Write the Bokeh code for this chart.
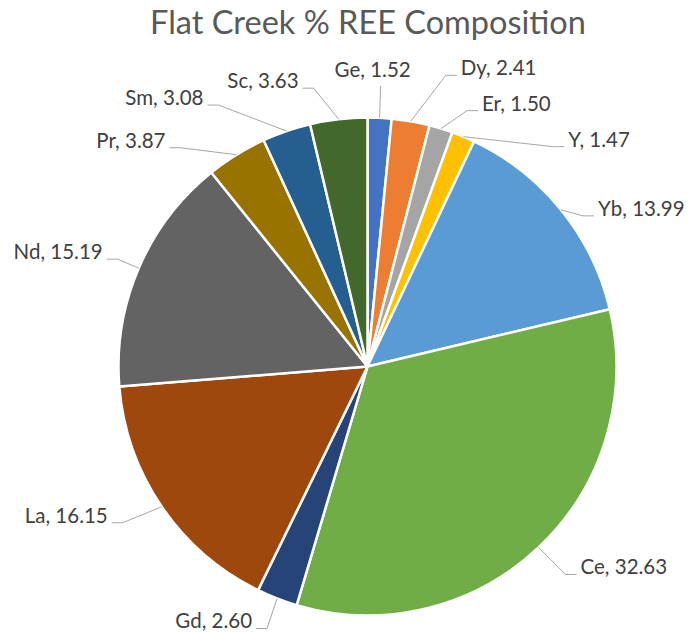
import math
from bokeh.plotting import figure
from bokeh.models import Range1d, ColumnDataSource
from bokeh.core.properties import value
from bokeh.embed import file_html
from bokeh.resources import INLINE

# ---- data ----
elements = ["Ge", "Dy", "Er", "Y", "Yb", "Ce", "Gd", "La", "Nd", "Pr", "Sm", "Sc"]
percent = [1.52, 2.41, 1.50, 1.47, 13.99, 32.63, 2.60, 16.15, 15.19, 3.87, 3.08, 3.63]
colors = ["#4472C4", "#ED7D31", "#A5A5A5", "#FFC000", "#5B9BD5", "#70AD47",
          "#264478", "#9E480E", "#636363", "#997300", "#255E91", "#43682B"]
title_text = "Flat Creek % REE Composition"

# ---- layout (screen pixels) ----
W, H = 693, 635
CX, CY, R = 367, 366, 249
# leader elbow offset from the slice's outer-arc midpoint, and tail direction
elbow = {"Ge": (1, -32), "Dy": (35, -46), "Er": (26, -18), "Y": (90, 10),
         "Yb": (22, 6), "Ce": (27, 27), "Gd": (-10, 30), "La": (-39, 16),
         "Nd": (-21, -9), "Pr": (-56, -7), "Sm": (-68, -26), "Sc": (-25, -31)}
TAIL = 11
GAP = 4
LABEL_RAISE = 9   # correction for the renderer's baseline placement
TITLE_RAISE = 14

total = sum(percent)
cx_d, cy_d = CX, H - CY

starts, ends = [], []
lx, ly, la = [], [], []
lead_xs, lead_ys = [], []
labels = []
cum = 0.0
for name, v in zip(elements, percent):
    a, b = cum, cum + v
    starts.append(math.pi / 2 - 2 * math.pi * a / total)
    ends.append(math.pi / 2 - 2 * math.pi * b / total)
    th = 2 * math.pi * (a + v / 2) / total
    px = CX + R * math.sin(th)
    py = CY - R * math.cos(th)
    ex, ey = px + elbow[name][0], py + elbow[name][1]
    labels.append(f"{name}, {v:.2f}")
    if name == "Ge":
        xs = [px, ex]
        ys = [py, ey]
        lx.append(ex - 8)
        ly.append(H - (ey - 8 - LABEL_RAISE))
        la.append("center")
    else:
        side = 1 if math.sin(th) > 0 else -1
        hx = ex + side * TAIL
        xs = [px, ex, hx]
        ys = [py, ey, ey]
        lx.append(hx + side * GAP)
        ly.append(H - (ey + 1 - LABEL_RAISE))
        la.append("left" if side > 0 else "right")
    lead_xs.append(xs)
    lead_ys.append([H - y for y in ys])
    cum = b

p = figure(width=W, height=H, x_range=Range1d(0, W), y_range=Range1d(0, H),
           output_backend="svg", toolbar_location=None, min_border=0,
           background_fill_color="white", border_fill_color="white")
p.axis.visible = False
p.grid.visible = False
p.outline_line_color = None

wsrc = ColumnDataSource(dict(start=starts, end=ends, color=colors))
p.wedge(x=cx_d, y=cy_d, radius=R, radius_units="screen",
        start_angle="start", end_angle="end", direction="clock",
        fill_color="color", line_color="white", line_width=2.5, source=wsrc)

p.multi_line(xs=lead_xs, ys=lead_ys, line_color="#A6A6A6", line_width=1)

tsrc = ColumnDataSource(dict(x=lx, y=ly, t=labels, a=la))
p.text(x="x", y="y", text="t", text_align="a", text_baseline="alphabetic",
       text_font=value("Lato"), text_font_size="20.5px", text_color="#404040",
       source=tsrc)

p.text(x=[367.5], y=[H - (35 - TITLE_RAISE)], text=[title_text], text_align="center",
       text_baseline="alphabetic", text_font=value("Lato"),
       text_font_size="32.5px", text_color="#595959")

open("out.html", "w").write(file_html(p, INLINE))
